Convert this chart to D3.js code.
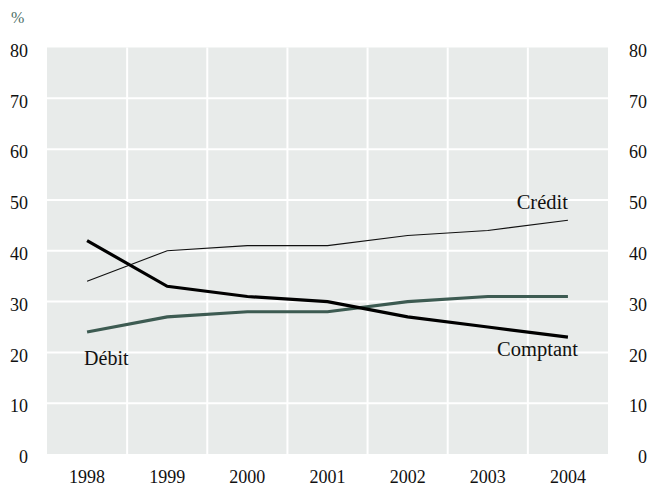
<!DOCTYPE html>
<html><head><meta charset="utf-8">
<script src="https://cdn.jsdelivr.net/npm/d3@7"></script>
<style>
html,body{margin:0;padding:0;background:#fff;}
svg text{font-family:"Liberation Serif","Times New Roman",serif;fill:#111;}
</style></head>
<body>
<svg id="chart" width="650" height="487"></svg>
<script>
const years = ["1998","1999","2000","2001","2002","2003","2004"];
const comptant = [42,33,31,30,27,25,23];
const credit = [34,40,41,41,43,44,46];
const debit = [24,27,28,28,30,31,31];
const yTicks = [0,10,20,30,40,50,60,70,80];
const unitLabel = "%";

const svg = d3.select("#chart");
const pL = 47, pR = 608, pT = 47.5, pB = 454;

const x = d3.scaleBand().domain(years).range([pL, pR]).padding(0);
const y = d3.scaleLinear().domain([0, 80]).range([pB, pT]);
const cx = d => x(d) + x.bandwidth() / 2;

svg.append("rect").attr("x", pL).attr("y", pT)
  .attr("width", pR - pL).attr("height", pB - pT).attr("fill", "#e8ebea");

// gridlines
svg.append("g").selectAll("line").data(yTicks.filter(t => t > 0 && t < 80)).join("line")
  .attr("x1", pL).attr("x2", pR)
  .attr("y1", d => y(d)).attr("y2", d => y(d))
  .attr("stroke", "#fff").attr("stroke-width", 2);
svg.append("g").selectAll("line").data(years.slice(1)).join("line")
  .attr("x1", d => x(d)).attr("x2", d => x(d))
  .attr("y1", pT).attr("y2", pB)
  .attr("stroke", "#fff").attr("stroke-width", 2);

// axes labels
const leftAxis = d3.axisLeft(y).tickValues(yTicks).tickSize(0).tickPadding(0);
const gl = svg.append("g").attr("transform", `translate(28,3)`).call(leftAxis);
gl.select(".domain").remove();
gl.selectAll("text").style("font-size", "18px").attr("fill", "#111").attr("font-family", null);

const rightAxis = d3.axisLeft(y).tickValues(yTicks).tickSize(0).tickPadding(0);
const gr = svg.append("g").attr("transform", `translate(647,3)`).call(rightAxis);
gr.select(".domain").remove();
gr.selectAll("text").style("font-size", "18px").attr("fill", "#111").attr("font-family", null);

const bottomAxis = d3.axisBottom(x).tickSize(0).tickPadding(0);
const gb = svg.append("g").attr("transform", `translate(0,470.5)`).call(bottomAxis);
gb.select(".domain").remove();
gb.selectAll("text").style("font-size", "18px").attr("fill", "#111").attr("font-family", null);

svg.append("text").attr("x", 11).attr("y", 23).text(unitLabel)
  .style("font-size", "16px").style("fill", "#4d6e66");

const line = d3.line().x((d, i) => cx(years[i])).y(d => y(d));

svg.append("path").datum(credit).attr("d", line)
  .attr("fill", "none").attr("stroke", "#111").attr("stroke-width", 1.1);
svg.append("path").datum(debit).attr("d", line)
  .attr("fill", "none").attr("stroke", "#3d5b52").attr("stroke-width", 3.2);
svg.append("path").datum(comptant).attr("d", line)
  .attr("fill", "none").attr("stroke", "#000").attr("stroke-width", 3.2);

// series labels
svg.append("text").attr("x", cx("2004")).attr("y", y(credit[6]) - 11)
  .attr("text-anchor", "end").style("font-size", "20.5px").text("Crédit");
svg.append("text").attr("x", cx("2004") + 10).attr("y", y(comptant[6]) + 19)
  .attr("text-anchor", "end").style("font-size", "20.5px").text("Comptant");
svg.append("text").attr("x", cx("1998") - 3).attr("y", y(debit[0]) + 33)
  .attr("text-anchor", "start").style("font-size", "20px").text("Débit");
</script>
</body></html>
